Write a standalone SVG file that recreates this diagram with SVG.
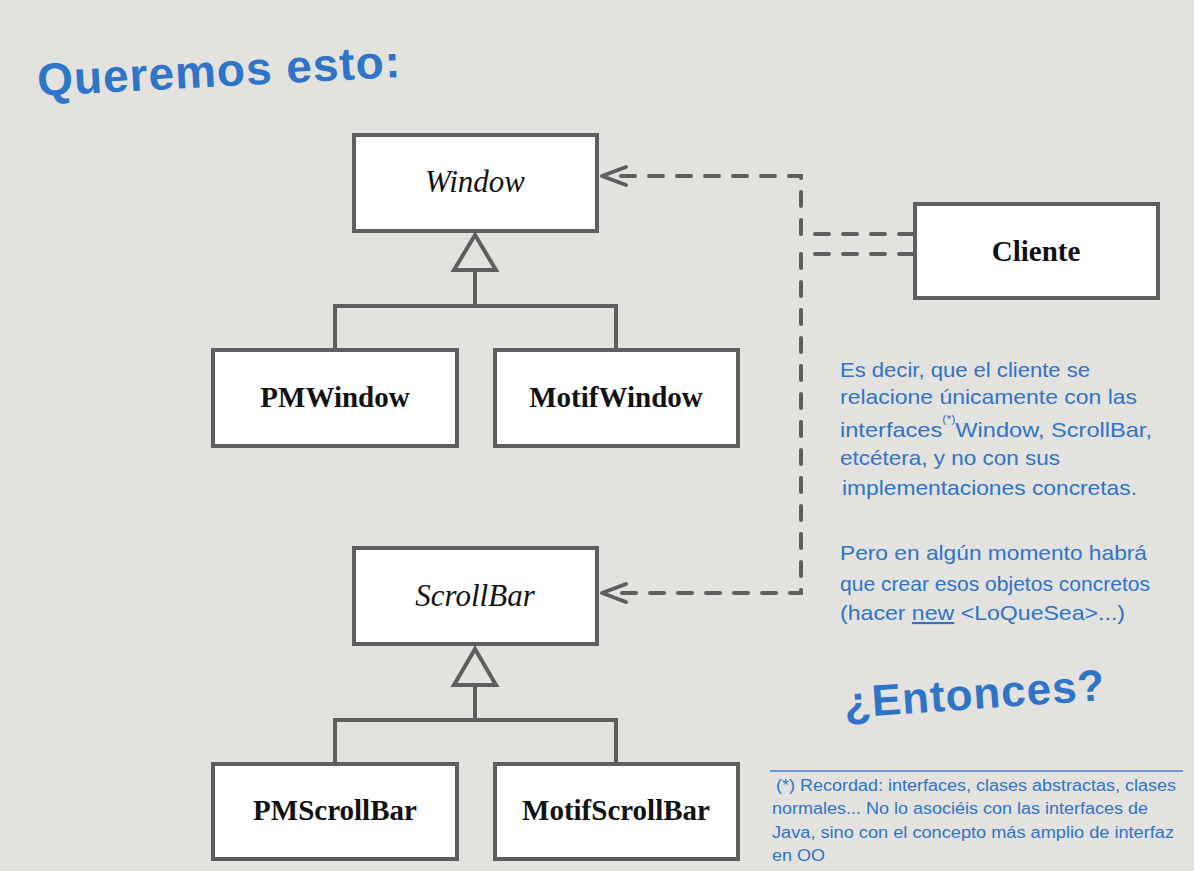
<svg xmlns="http://www.w3.org/2000/svg" width="1194" height="871" viewBox="0 0 1194 871">
<style>
.box{fill:#ffffff;stroke:#5e5e5e;stroke-width:4}
.gen{fill:none;stroke:#5e5e5e;stroke-width:4}
.tri{fill:#e3e2de;stroke:#5e5e5e;stroke-width:4;stroke-linejoin:miter}
.dep{fill:none;stroke:#5e5e5e;stroke-width:4;stroke-dasharray:14 14;stroke-linecap:round}
.arr{fill:none;stroke:#5e5e5e;stroke-width:4;stroke-linecap:round;stroke-linejoin:round}
.lbl{font-family:"Liberation Serif",serif;font-size:29px;font-weight:bold;fill:#111;text-anchor:middle}
.ital{font-family:"Liberation Serif",serif;font-size:31px;font-style:italic;fill:#111;text-anchor:middle}
.hand{font-family:"Liberation Sans",sans-serif;fill:#2e74c9}
.note{font-family:"Liberation Sans",sans-serif;font-size:21px;fill:#2e74c9}
.foot{font-family:"Liberation Sans",sans-serif;font-size:16px;fill:#2e74c9}
</style>
<rect x="0" y="0" width="1194" height="871" fill="#e3e2de"/>

<text class="hand" x="38" y="96" font-size="46" font-weight="bold" transform="rotate(-3 38 96)" letter-spacing="1">Queremos esto:</text>

<g id="connectors">
  <polyline class="gen" points="475,270 475,306 335,306 335,350"/>
  <polyline class="gen" points="475,306 616,306 616,350"/>
  <polyline class="gen" points="475,685 475,720 335,720 335,764"/>
  <polyline class="gen" points="475,720 616,720 616,764"/>
  <polygon class="tri" points="475,235 454,270 496,270"/>
  <polygon class="tri" points="475,649 454,685 496,685"/>
  <polyline class="dep" points="913,234 801,234 801,176 612,176"/>
  <polyline class="dep" points="913,254 801,254 801,593 612,593"/>
  <polyline class="arr" points="626,167 602,176 626,185"/>
  <polyline class="arr" points="626,584 602,593 626,602"/>
</g>

<g id="window"><rect class="box" x="354" y="135" width="243" height="96"/><text class="ital" x="475" y="192">Window</text></g>
<g id="pmwindow"><rect class="box" x="213" y="350" width="244" height="96"/><text class="lbl" x="335" y="407">PMWindow</text></g>
<g id="motifwindow"><rect class="box" x="495" y="350" width="243" height="96"/><text class="lbl" x="616" y="407">MotifWindow</text></g>
<g id="scrollbar"><rect class="box" x="354" y="548" width="243" height="96"/><text class="ital" x="475" y="606">ScrollBar</text></g>
<g id="pmscrollbar"><rect class="box" x="213" y="764" width="244" height="95"/><text class="lbl" x="335" y="820">PMScrollBar</text></g>
<g id="motifscrollbar"><rect class="box" x="495" y="764" width="243" height="95"/><text class="lbl" x="616" y="820">MotifScrollBar</text></g>
<g id="cliente"><rect class="box" x="915" y="204" width="243" height="94"/><text class="lbl" x="1036" y="261">Cliente</text></g>

<g id="notes">
  <text class="note" x="840" y="377" textLength="250" lengthAdjust="spacingAndGlyphs">Es decir, que el cliente se</text>
  <text class="note" x="840" y="404" textLength="297" lengthAdjust="spacingAndGlyphs">relacione únicamente con las</text>
  <text class="note" x="840" y="437" textLength="312" lengthAdjust="spacingAndGlyphs">interfaces<tspan font-size="11" dy="-14">(*)</tspan><tspan dy="14">Window, ScrollBar,</tspan></text>
  <text class="note" x="840" y="465" textLength="220" lengthAdjust="spacingAndGlyphs">etcétera, y no con sus</text>
  <text class="note" x="842" y="495" textLength="295" lengthAdjust="spacingAndGlyphs">implementaciones concretas.</text>
  <text class="note" x="840" y="560" textLength="307" lengthAdjust="spacingAndGlyphs">Pero en algún momento habrá</text>
  <text class="note" x="840" y="591" textLength="310" lengthAdjust="spacingAndGlyphs">que crear esos objetos concretos</text>
  <text class="note" x="840" y="620" textLength="285" lengthAdjust="spacingAndGlyphs">(hacer <tspan text-decoration="underline">new</tspan> &lt;LoQueSea&gt;...)</text>
</g>

<text class="hand" x="845" y="718" font-size="44" font-weight="bold" transform="rotate(-4 845 718)" letter-spacing="1">¿Entonces?</text>

<g id="footnote">
  <line x1="770" y1="771" x2="1183" y2="771" stroke="#3f7fcf" stroke-width="1.5"/>
  <text class="foot" x="776" y="791" textLength="400" lengthAdjust="spacingAndGlyphs">(*) Recordad: interfaces, clases abstractas, clases</text>
  <text class="foot" x="772" y="814" textLength="376" lengthAdjust="spacingAndGlyphs">normales... No lo asociéis con las interfaces de</text>
  <text class="foot" x="772" y="838" textLength="402" lengthAdjust="spacingAndGlyphs">Java, sino con el concepto más amplio de interfaz</text>
  <text class="foot" x="772" y="861" textLength="53" lengthAdjust="spacingAndGlyphs">en OO</text>
</g>
</svg>
